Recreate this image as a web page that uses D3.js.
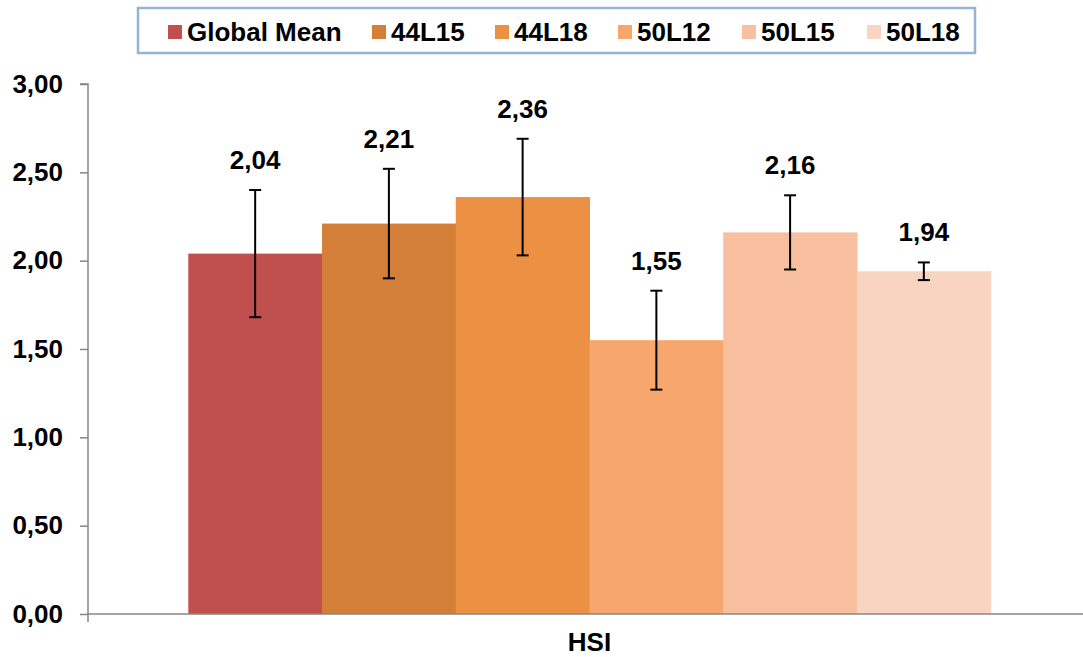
<!DOCTYPE html>
<html><head><meta charset="utf-8">
<script src="https://cdn.jsdelivr.net/npm/d3@7"></script>
<style>body{margin:0;background:#fff}svg{display:block}text{font-family:"Liberation Sans",Arial,sans-serif;font-weight:bold}</style>
</head><body><svg id="c" width="1083" height="657"></svg>
<script>
const category = "HSI";
const series = ["Global Mean","44L15","44L18","50L12","50L15","50L18"];
const values = [2.04, 2.21, 2.36, 1.55, 2.16, 1.94];
const errors = [0.36, 0.31, 0.33, 0.28, 0.21, 0.05];
const labels = ["2,04","2,21","2,36","1,55","2,16","1,94"];
const colors = ["#c0504d","#d37f38","#ec9043","#f7a76e","#f8bf9f","#f9d4c1"];
const yTicks = [0,0.5,1,1.5,2,2.5,3];

const svg = d3.select("#c");
const mL = 88, mR = 1091, mT = 84, mB = 614;
const FS = "26px";
const y = d3.scaleLinear().domain([0,3]).range([mB, mT]);
const x0 = d3.scaleBand().domain([category]).range([mL, mR]).paddingInner(0).paddingOuter(0);
const groupW = x0.bandwidth() * 6/7.5;
const x1 = d3.scaleBand().domain(series).range([x0(category) + (x0.bandwidth()-groupW)/2, x0(category) + (x0.bandwidth()+groupW)/2]);

// bars
svg.append("g").selectAll("rect").data(series).join("rect")
  .attr("x", d => x1(d)).attr("width", x1.bandwidth()+0.5)
  .attr("y", (d,i) => y(values[i])).attr("height", (d,i) => mB - y(values[i]))
  .attr("fill", (d,i) => colors[i]);

// y axis
const fmt = d => d3.format(".2f")(d).replace(".", ",");
const ya = svg.append("g").attr("transform", `translate(${mL},0)`)
  .call(d3.axisLeft(y).tickValues(yTicks).tickFormat(fmt).tickSize(8).tickPadding(17));
ya.select(".domain").attr("stroke", "#868686").attr("stroke-width", 1.5).attr("d", `M-8,${mT}H0V${mB}`);
ya.selectAll(".tick line").attr("stroke", "#868686").attr("stroke-width", 1.5);
ya.selectAll(".tick text").attr("fill", "#000").style("font-size", FS).style("font-weight", "bold").attr("font-family", null);

// x axis
const xa = svg.append("g").attr("transform", `translate(0,${mB})`)
  .call(d3.axisBottom(x0).tickSize(0).tickPadding(19));
xa.select(".domain").attr("stroke", "#868686").attr("stroke-width", 1.5).attr("d", `M${mL},8V0H${mR}`);
xa.selectAll(".tick text").attr("fill", "#000").style("font-size", FS).style("font-weight", "bold").attr("font-family", null);

// error bars
const eb = svg.append("g").attr("stroke", "#000").attr("stroke-width", 2);
series.forEach((s,i) => {
  const cx = x1(s) + x1.bandwidth()/2;
  const t = y(values[i]+errors[i]), b = y(values[i]-errors[i]);
  eb.append("line").attr("x1", cx).attr("x2", cx).attr("y1", t).attr("y2", b);
  eb.append("line").attr("x1", cx-6).attr("x2", cx+6).attr("y1", t).attr("y2", t);
  eb.append("line").attr("x1", cx-6).attr("x2", cx+6).attr("y1", b).attr("y2", b);
  svg.append("text").attr("x", cx).attr("y", t - 21).attr("text-anchor", "middle")
    .style("font-size", FS).text(labels[i]);
});

// legend
svg.append("rect").attr("x", 138).attr("y", 8).attr("width", 837).attr("height", 45)
  .attr("fill", "#fff").attr("stroke", "#95b3d7").attr("stroke-width", 2.5);
const legX = [168, 372, 495, 618, 742, 867];
const lg = svg.append("g");
series.forEach((s,i) => {
  lg.append("rect").attr("x", legX[i]).attr("y", 25).attr("width", 14).attr("height", 14).attr("fill", colors[i]);
  lg.append("text").attr("x", legX[i] + 19).attr("y", 41).style("font-size", FS).text(s);
});
</script></body></html>
